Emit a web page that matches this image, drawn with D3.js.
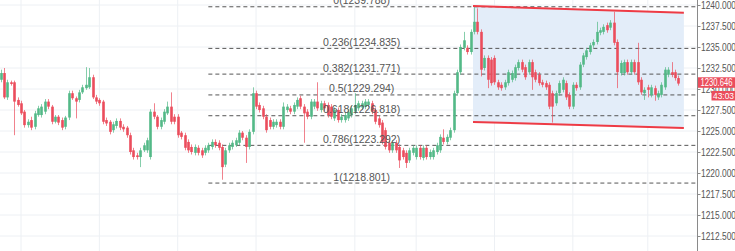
<!DOCTYPE html>
<html>
<head>
<meta charset="utf-8">
<script src="https://cdn.jsdelivr.net/npm/d3@7"></script>
<style>
  body { margin: 0; background: #fff; overflow: hidden; }
  text { font-family: Arial, "Liberation Sans", sans-serif; }
</style>
</head>
<body>
<div id="chart"></div>
<script>
// candles as [open, high, low, close], oldest first
const candles = [
  [1231.1,1232.3,1230.8,1231.9],[1231.9,1232.5,1228.8,1229.0],[1229.0,1231.1,1228.7,1230.8],[1230.8,1231.0,1230.4,1230.6],
  [1230.8,1231.0,1224.5,1228.5],[1228.7,1229.0,1227.9,1228.1],[1228.3,1228.6,1226.9,1227.1],[1227.3,1227.5,1225.4,1225.7],
  [1225.7,1226.4,1225.4,1226.1],[1226.3,1226.7,1225.1,1225.4],[1225.5,1227.4,1225.2,1227.1],[1226.9,1228.0,1226.7,1227.7],
  [1226.9,1228.2,1226.6,1227.9],[1227.3,1228.8,1227.0,1228.5],[1228.5,1228.8,1227.6,1227.9],[1227.9,1228.1,1225.8,1226.1],
  [1226.1,1226.9,1225.9,1226.7],[1226.7,1226.9,1225.7,1226.0],[1226.3,1226.6,1225.1,1225.4],[1225.5,1226.8,1225.2,1226.6],
  [1226.6,1229.8,1226.3,1229.5],[1229.5,1229.8,1228.7,1228.9],[1228.9,1229.1,1226.5,1228.5],[1228.7,1229.9,1228.4,1229.6],
  [1229.6,1230.5,1229.4,1230.2],[1230.1,1232.6,1229.9,1230.5],[1230.2,1232.5,1230.0,1231.4],[1231.4,1231.7,1228.8,1229.0],
  [1229.0,1229.3,1228.2,1228.5],[1228.7,1228.9,1228.0,1228.3],[1228.5,1228.7,1225.8,1226.1],[1226.3,1226.6,1225.6,1225.9],
  [1226.1,1226.3,1224.6,1224.9],[1225.1,1226.1,1224.8,1225.8],[1225.6,1226.5,1225.3,1226.2],[1226.2,1226.5,1225.1,1225.4],
  [1225.5,1225.8,1224.9,1225.2],[1225.4,1225.6,1224.2,1224.5],[1224.5,1224.8,1222.2,1222.5],[1222.7,1223.0,1221.6,1221.9],
  [1222.1,1222.4,1221.6,1221.9],[1221.9,1223.0,1220.7,1222.7],[1222.7,1223.6,1222.5,1223.3],[1222.7,1224.2,1222.4,1223.9],
  [1221.9,1227.6,1221.6,1227.3],[1227.3,1228.3,1226.4,1226.7],[1226.7,1226.9,1225.2,1225.5],[1225.5,1226.6,1225.2,1226.3],
  [1226.1,1227.6,1225.8,1227.3],[1227.1,1228.5,1226.9,1227.9],[1227.9,1229.6,1225.8,1226.1],[1226.7,1227.0,1225.8,1226.1],
  [1226.7,1227.0,1224.2,1224.5],[1224.8,1225.0,1224.0,1224.3],[1224.5,1224.8,1222.7,1223.0],[1223.7,1224.0,1222.4,1222.7],
  [1223.1,1223.4,1222.2,1222.5],[1222.4,1223.4,1222.1,1223.1],[1223.0,1223.3,1222.1,1222.4],[1222.7,1223.0,1221.8,1222.1],
  [1222.4,1223.3,1222.1,1223.0],[1222.7,1223.6,1222.4,1223.3],[1223.1,1224.0,1222.8,1223.7],[1223.7,1224.0,1223.0,1223.3],
  [1223.6,1223.9,1222.7,1223.0],[1223.1,1223.4,1219.2,1220.7],[1221.0,1223.0,1220.7,1222.7],[1222.7,1223.6,1222.4,1223.3],
  [1223.1,1223.9,1222.8,1223.6],[1223.3,1224.2,1223.1,1223.9],[1223.6,1225.1,1223.3,1224.8],[1224.8,1225.0,1223.9,1224.2],
  [1224.2,1224.5,1221.2,1223.1],[1223.1,1225.2,1222.8,1224.9],[1224.9,1230.2,1224.6,1229.5],[1229.5,1229.8,1227.6,1227.9],
  [1228.1,1228.4,1227.2,1227.5],[1227.7,1228.0,1226.4,1226.7],[1226.7,1227.0,1224.8,1225.1],[1226.3,1226.6,1225.2,1225.5],
  [1225.5,1226.4,1225.2,1226.1],[1225.7,1226.4,1225.4,1226.1],[1226.1,1226.4,1225.2,1225.5],[1225.5,1228.4,1225.2,1227.9],
  [1227.5,1228.2,1227.2,1227.9],[1227.7,1228.0,1227.0,1227.3],[1227.3,1228.4,1227.0,1228.1],[1227.9,1229.0,1227.6,1228.7],
  [1228.9,1229.2,1227.6,1227.9],[1227.9,1228.2,1223.6,1227.1],[1227.3,1227.6,1226.4,1226.7],[1226.7,1228.8,1226.4,1228.5],
  [1227.9,1228.8,1227.6,1228.5],[1228.5,1230.8,1227.4,1227.7],[1227.5,1228.6,1227.2,1228.3],[1228.3,1228.6,1227.4,1227.7],
  [1228.1,1228.4,1226.6,1226.9],[1227.9,1228.2,1226.4,1226.7],[1226.5,1227.8,1226.2,1227.5],[1227.5,1227.8,1226.0,1226.3],
  [1226.3,1227.0,1226.0,1226.7],[1226.3,1227.2,1226.0,1226.9],[1226.5,1227.6,1226.2,1227.3],[1226.9,1228.0,1226.6,1227.7],
  [1227.3,1229.5,1227.0,1228.1],[1227.7,1228.6,1227.4,1228.3],[1227.8,1228.6,1227.5,1228.3],[1227.9,1228.8,1227.6,1228.5],
  [1228.1,1228.8,1227.8,1228.5],[1228.3,1228.6,1227.0,1227.3],[1227.5,1227.8,1225.8,1226.1],[1226.5,1226.8,1225.4,1225.7],
  [1226.0,1226.3,1223.4,1223.7],[1225.1,1225.4,1222.8,1223.1],[1223.6,1223.9,1222.4,1222.7],[1222.7,1223.9,1222.4,1223.6],
  [1223.6,1223.9,1222.4,1222.7],[1223.1,1223.4,1220.6,1221.5],[1222.7,1223.0,1221.6,1221.9],[1222.4,1222.7,1220.6,1221.2],
  [1221.5,1223.0,1221.2,1222.7],[1222.4,1223.3,1222.1,1223.0],[1221.9,1223.3,1221.6,1223.0],[1223.0,1223.3,1221.6,1221.9],
  [1221.8,1223.3,1221.5,1223.0],[1223.0,1223.3,1221.6,1221.9],[1221.9,1222.8,1221.6,1222.5],[1221.9,1223.0,1221.6,1222.7],
  [1222.5,1223.6,1222.2,1223.3],[1222.7,1224.6,1222.4,1224.3],[1224.2,1225.2,1223.4,1223.7],[1223.7,1224.6,1223.4,1224.3],
  [1224.2,1225.4,1223.9,1225.1],[1225.1,1229.8,1224.8,1229.5],[1229.5,1232.3,1229.2,1232.0],[1232.0,1235.3,1231.7,1235.0],
  [1234.9,1236.8,1234.6,1235.8],[1234.9,1235.2,1234.1,1234.4],[1234.4,1237.1,1234.1,1236.8],[1236.8,1239.8,1236.5,1238.0],
  [1238.0,1239.6,1236.5,1236.8],[1236.8,1237.1,1231.5,1232.3],[1232.5,1234.0,1232.2,1233.7],[1233.7,1234.0,1230.1,1231.1],
  [1233.5,1233.8,1230.4,1230.7],[1233.7,1234.0,1230.5,1230.8],[1230.8,1231.1,1229.9,1230.2],[1230.5,1230.8,1229.8,1230.1],
  [1230.2,1231.1,1229.9,1230.8],[1230.7,1232.3,1230.4,1232.0],[1231.1,1232.2,1230.8,1231.9],[1231.3,1232.9,1231.0,1232.6],
  [1232.5,1233.5,1232.2,1233.2],[1233.2,1233.5,1232.0,1232.3],[1232.6,1232.9,1231.1,1231.4],[1232.0,1233.5,1231.7,1233.2],
  [1233.2,1233.5,1229.9,1231.4],[1232.0,1232.3,1230.8,1231.1],[1231.7,1232.0,1230.4,1230.7],[1230.8,1231.1,1230.2,1230.5],
  [1230.7,1231.0,1229.9,1230.2],[1230.5,1230.8,1227.6,1227.9],[1229.5,1229.8,1226.0,1227.9],[1228.3,1229.8,1228.0,1229.5],
  [1229.5,1231.0,1229.2,1230.7],[1229.9,1231.4,1229.6,1231.1],[1230.7,1231.0,1228.7,1229.0],[1229.3,1229.6,1227.6,1227.9],
  [1227.9,1230.8,1227.6,1230.5],[1230.5,1230.8,1229.8,1230.1],[1230.2,1233.2,1229.9,1232.9],[1232.9,1234.3,1232.6,1234.0],
  [1233.8,1234.9,1233.5,1234.6],[1234.4,1235.5,1234.1,1235.2],[1235.2,1235.9,1234.9,1235.6],[1235.6,1238.0,1235.3,1236.8],
  [1236.7,1237.3,1236.4,1237.0],[1236.8,1237.7,1236.5,1237.4],[1237.6,1237.9,1236.7,1237.0],[1237.3,1238.2,1237.0,1237.9],
  [1237.9,1239.2,1235.2,1235.5],[1235.6,1235.9,1230.1,1232.0],[1231.9,1233.4,1231.6,1233.1],[1231.9,1233.5,1231.6,1233.2],
  [1233.2,1233.5,1231.7,1232.0],[1232.0,1233.5,1231.7,1233.2],[1233.2,1233.5,1231.7,1232.0],[1233.2,1235.5,1230.5,1230.8],
  [1231.1,1231.4,1229.3,1229.6],[1229.5,1230.2,1228.7,1229.9],[1230.2,1230.5,1229.0,1229.9],[1229.3,1230.5,1229.0,1230.2],
  [1230.1,1230.4,1228.6,1229.3],[1229.0,1229.8,1228.7,1229.5],[1229.3,1230.8,1229.0,1230.5],[1230.2,1232.6,1229.9,1232.3],
  [1231.7,1232.6,1231.4,1232.3],[1232.0,1233.2,1231.4,1231.7],[1232.0,1232.3,1231.0,1231.3],[1231.3,1231.6,1230.4,1230.646]
]

// fibonacci retracement levels
const fibRatios = ["0", "0.236", "0.382", "0.5", "0.618", "0.786", "1"]
const fibPrices = [1239.788, 1234.835, 1231.771, 1229.294, 1226.818, 1223.292, 1218.801]

// price axis ticks
const priceTicks = [1212.5, 1215, 1217.5, 1220, 1222.5, 1225, 1227.5, 1230, 1232.5, 1235, 1237.5, 1240]

// candle indices where the time grid lines fall
const timeGrid = [6, 29, 52, 75, 104, 122, 145, 168, 190]

// parallel channel: start/end candle index, upper and lower prices
const channelIdx = [138.7, 200.6]
const channelUpper = [1239.88, 1239.08]
const channelLower = [1226.07, 1225.36]

const fibStartIdx = 61
const fibLabelIdx = 106
const lastPrice = 1230.646
const countdown = "43:03"

var width = 735
var height = 251
var axisX = 697
const upColor = "#53b987"
const downColor = "#eb4d5c"

const svg = d3.select("#chart")
  .append("svg")
  .attr("width", width)
  .attr("height", height)

const x = d3.scaleBand()
  .domain(d3.range(candles.length))
  .range([-0.7, 679.7])
  .paddingInner(0.25)

// centre of a (possibly fractional) candle index
const cx = i => x(0) + i * x.step() + x.bandwidth() / 2

const y = d3.scaleLinear()
  .domain([1212.5, 1240])
  .range([236, 5])

// grid
svg.append("g")
  .selectAll("line")
  .data(priceTicks)
  .join("line")
  .attr("x1", 0).attr("x2", axisX)
  .attr("y1", d => y(d)).attr("y2", d => y(d))
  .attr("stroke", "#edf0f4")

svg.append("g")
  .selectAll("line")
  .data(timeGrid)
  .join("line")
  .attr("x1", d => cx(d)).attr("x2", d => cx(d))
  .attr("y1", 0).attr("y2", height)
  .attr("stroke", "#edf0f4")

// channel fill
const poly = [
  [cx(channelIdx[0]), y(channelUpper[0])],
  [cx(channelIdx[1]), y(channelUpper[1])],
  [cx(channelIdx[1]), y(channelLower[1])],
  [cx(channelIdx[0]), y(channelLower[0])]
]
svg.append("polygon")
  .attr("points", poly.map(p => p.join(",")).join(" "))
  .attr("fill", "#e3edf9")

// fib lines
svg.append("g")
  .selectAll("line")
  .data(fibPrices)
  .join("line")
  .attr("x1", cx(fibStartIdx)).attr("x2", axisX)
  .attr("y1", d => y(d)).attr("y2", d => y(d))
  .attr("stroke", "#555")
  .attr("stroke-dasharray", "4,3")

// candles
const g = svg.append("g")
g.selectAll("line")
  .data(candles)
  .join("line")
  .attr("x1", (d, i) => Math.round(cx(i)) + 0.5)
  .attr("x2", (d, i) => Math.round(cx(i)) + 0.5)
  .attr("y1", d => y(d[1]))
  .attr("y2", d => y(d[2]))
  .attr("stroke", d => d[3] >= d[0] ? upColor : downColor)
  .attr("stroke-opacity", 0.7)

g.selectAll("rect")
  .data(candles)
  .join("rect")
  .attr("x", (d, i) => Math.round(cx(i)) - 0.8)
  .attr("width", 2.6)
  .attr("y", d => y(Math.max(d[0], d[3])))
  .attr("height", d => Math.max(1, Math.abs(y(d[0]) - y(d[3]))))
  .attr("fill", d => d[3] >= d[0] ? upColor : downColor)

// fib labels
svg.append("g")
  .selectAll("text")
  .data(fibPrices)
  .join("text")
  .attr("x", cx(fibLabelIdx))
  .attr("y", d => y(d) - 2.5)
  .attr("text-anchor", "middle")
  .attr("font-size", 10.5)
  .attr("fill", "#555")
  .text((d, i) => fibRatios[i] + "(" + d3.format(".3f")(d) + ")")

// channel borders
svg.append("g")
  .selectAll("line")
  .data([channelUpper, channelLower])
  .join("line")
  .attr("x1", cx(channelIdx[0])).attr("x2", cx(channelIdx[1]))
  .attr("y1", d => y(d[0])).attr("y2", d => y(d[1]))
  .attr("stroke", "#ee3b45")
  .attr("stroke-width", 2)

// price axis
svg.append("line")
  .attr("x1", axisX + 0.5).attr("x2", axisX + 0.5)
  .attr("y1", 0).attr("y2", height)
  .attr("stroke", "#8a8a8a")

const yAxis = svg.append("g")
  .attr("transform", `translate(${axisX + 0.5},0)`)
  .call(d3.axisRight(y).tickValues(priceTicks).tickFormat(d3.format(".3f")).tickSize(3).tickPadding(0.5))
yAxis.select(".domain").remove()
yAxis.selectAll("line").attr("stroke", "#8a8a8a")
yAxis.selectAll("text")
  .attr("fill", "#555")
  .attr("font-size", 10)
  .attr("font-family", "Arial, 'Liberation Sans', sans-serif")
  .attr("textLength", 35)
  .attr("lengthAdjust", "spacingAndGlyphs")

// last price + countdown badges
const py = y(lastPrice)
svg.append("rect").attr("x", axisX + 1).attr("y", py - 6.3).attr("width", 40).attr("height", 10.5).attr("fill", downColor)
svg.append("text").attr("x", axisX + 3.5).attr("y", py - 1)
  .attr("dy", "0.35em").attr("font-size", 10).attr("fill", "#fff")
  .attr("textLength", 32).attr("lengthAdjust", "spacingAndGlyphs")
  .text(d3.format(".3f")(lastPrice))
svg.append("rect").attr("x", 711.5).attr("y", py + 7.4).attr("width", 25).attr("height", 9.5).attr("fill", downColor)
svg.append("text").attr("x", 713).attr("y", py + 12.2)
  .attr("dy", "0.35em").attr("font-size", 9.5).attr("fill", "#fff")
  .attr("textLength", 21).attr("lengthAdjust", "spacingAndGlyphs")
  .text(countdown)
</script>
</body>
</html>
